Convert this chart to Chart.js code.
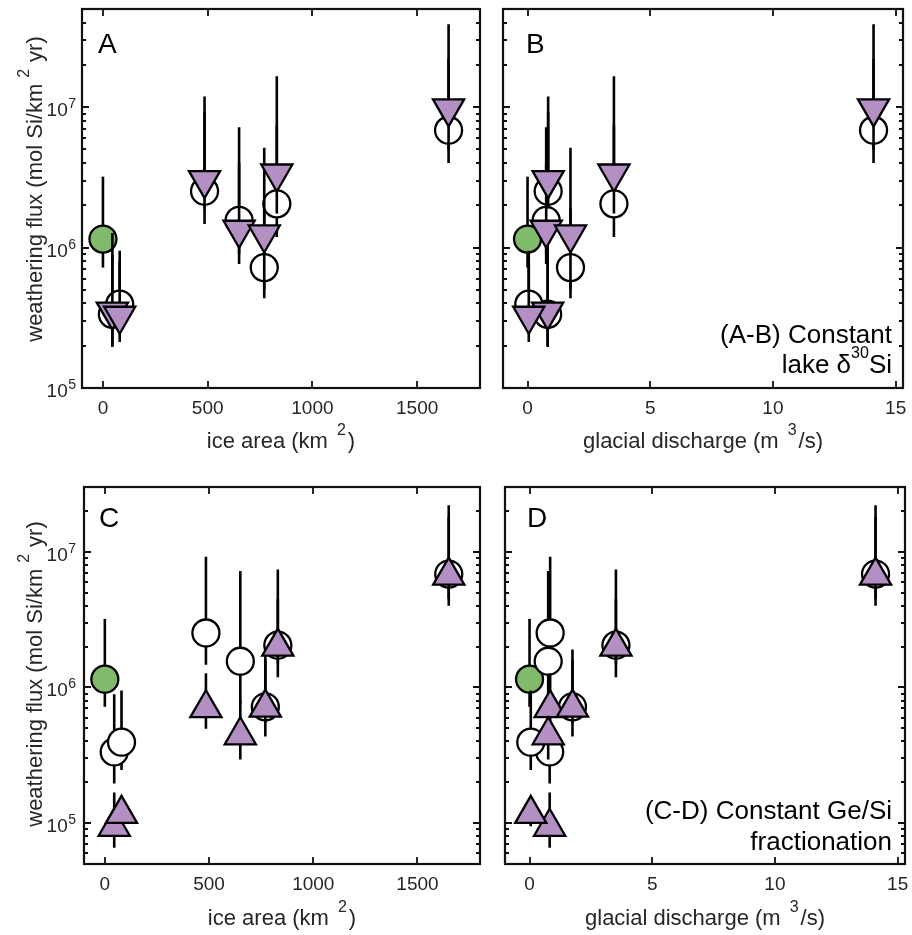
<!DOCTYPE html>
<html><head><meta charset="utf-8">
<script src="https://cdn.jsdelivr.net/npm/chart.js@4/dist/chart.umd.min.js"></script>
<style>
html,body{margin:0;padding:0;background:#fff;}
#wrap{position:relative;width:912px;height:935px;overflow:hidden;background:#fff;}
canvas{position:absolute;}
</style></head><body>
<div id="wrap">
<canvas id="cA" width="490" height="460" style="left:0px;top:0px;width:490px;height:460px"></canvas>
<canvas id="cB" width="422" height="460" style="left:490px;top:0px;width:422px;height:460px"></canvas>
<canvas id="cC" width="490" height="475" style="left:0px;top:460px;width:490px;height:475px"></canvas>
<canvas id="cD" width="422" height="475" style="left:490px;top:460px;width:422px;height:475px"></canvas>
</div>
<script>
// ---------------- data ----------------
const siteIceArea   = [45, 80, 485, 650, 770, 830, 1650];
const siteDischarge = [0.82, 0.05, 0.84, 0.76, 1.75, 3.52, 14.1];
const refIceArea    = [0];
const refDischarge  = [0];
const refFlux = [1.15e6];
const refLow  = [7.2e5];
const refHigh = [3.2e6];
// open circles
const openFlux = [3.35e5, 3.95e5, 2.52e6, 1.56e6, 7.2e5, 2.05e6, 6.85e6];
const openLow  = [1.96e5, 2.46e5, 1.47e6, 7.65e5, 4.35e5, 1.19e6, 4.0e6];
const openHigh = [8.9e5, 9.5e5, 9.2e6, 7.2e6, 1.9e6, 7.4e6, 2.2e7];
// (A-B) constant lake d30Si, downward triangles
const lakeFlux = [3.5e5, 3.27e5, 3.02e6, 1.34e6, 1.24e6, 3.37e6, 9.8e6];
const lakeLow  = [2.0e5, 2.13e5, 1.9e6, 9.0e5, 5.0e5, 1.75e6, 5.0e6];
const lakeHigh = [1.27e6, 8.0e5, 1.19e7, 4.0e6, 5.13e6, 1.66e7, 3.9e7];
// (C-D) constant Ge/Si fractionation, upward triangles
const geFlux = [9.4e4, 1.17e5, 7.03e5, 4.44e5, 7.1e5, 2.0e6, 6.67e6];
const geLow  = [6.6e4, 9.5e4, 4.97e5, 2.94e5, 5.5e5, 1.5e6, 4.5e6];
const geHigh = [1.68e5, 1.4e5, 1.27e6, 8.0e5, 1.6e6, 4.5e6, 1.8e7];

const xTicksIce = [0, 500, 1000, 1500];
const xTicksQ   = [0, 5, 10, 15];
const yTickExponents = [5, 6, 7];

// ---------------- styling ----------------
const FF = '"Liberation Sans", Arial, Helvetica, sans-serif';
const TXT = '#262626';
const PURPLE = '#B48FC4';
const GREEN = '#80BA6B';
Chart.defaults.font.family = FF;

function pts(xs, ys) { return xs.map((x, i) => ({x: x, y: ys[i]})); }
function bars(xs, lo, hi) {
  const d = [];
  xs.forEach((x, i) => { d.push({x: x, y: lo[i]}, {x: x, y: hi[i]}, {x: x, y: null}); });
  return d;
}
function barDs(data, order) {
  return {data: data, showLine: true, spanGaps: false, pointRadius: 0, borderColor: '#000',
          borderWidth: 2.6, order: order, fill: false};
}
function markDs(data, order, style, radius, fillc, rot) {
  return {data: data, showLine: false, pointStyle: style, pointRadius: radius, pointHoverRadius: radius,
          pointBackgroundColor: fillc, pointBorderColor: '#000', pointBorderWidth: 2.3,
          pointRotation: rot, order: order};
}

function richWidth(ctx, parts) {
  let w = 0;
  parts.forEach(p => { ctx.font = p.s + 'px ' + FF; w += (p.g || 0) + ctx.measureText(p.t).width; });
  return w;
}
function drawRich(ctx, parts, x, y, align) {
  const w = richWidth(ctx, parts);
  let cx = align === 'right' ? x - w : (align === 'center' ? x - w / 2 : x);
  ctx.textAlign = 'left'; ctx.textBaseline = 'alphabetic';
  parts.forEach(p => {
    ctx.font = p.s + 'px ' + FF;
    cx += (p.g || 0);
    ctx.fillText(p.t, cx, y - (p.r || 0));
    cx += ctx.measureText(p.t).width;
  });
}

const panelPlugin = {
  id: 'panel',
  afterDraw(chart, args, o) {
    const ctx = chart.ctx, a = chart.chartArea, xs = chart.scales.x, ys = chart.scales.y;
    ctx.save();
    ctx.strokeStyle = '#111'; ctx.lineWidth = 2.2;
    ctx.strokeRect(a.left, a.top, a.right - a.left, a.bottom - a.top);
    ctx.lineWidth = 1.8;
    ctx.beginPath();
    o.xTicks.forEach(v => {
      const px = Math.round(xs.getPixelForValue(v));
      ctx.moveTo(px, a.bottom); ctx.lineTo(px, a.bottom - 7);
      ctx.moveTo(px, a.top); ctx.lineTo(px, a.top + 7);
    });
    const mn = ys.min, mx = ys.max;
    for (let e = Math.floor(Math.log10(mn)); e <= Math.ceil(Math.log10(mx)); e++) {
      for (let k = 1; k <= 9; k++) {
        const v = k * Math.pow(10, e);
        if (v < mn * 0.999 || v > mx * 1.001) continue;
        const py = Math.round(ys.getPixelForValue(v));
        const len = k === 1 ? 7 : 4;
        ctx.moveTo(a.left, py); ctx.lineTo(a.left + len, py);
        ctx.moveTo(a.right, py); ctx.lineTo(a.right - len, py);
      }
    }
    ctx.stroke();
    ctx.fillStyle = TXT;
    const ox = o.ox, oy = o.oy;
    if (o.yLabels) {
      yTickExponents.forEach(e => {
        const py = ys.getPixelForValue(Math.pow(10, e));
        ctx.font = '14px ' + FF;
        const sw = ctx.measureText(String(e)).width;
        ctx.textAlign = 'left'; ctx.textBaseline = 'alphabetic';
        ctx.fillText(String(e), 76 - ox - sw, py + 1);
        ctx.font = '19px ' + FF;
        ctx.textAlign = 'right';
        ctx.fillText('10', 76 - ox - sw - 0.5, py + 9);
      });
      // y title
      ctx.save();
      ctx.translate(42 - ox, o.yTitleCy - oy);
      ctx.rotate(-Math.PI / 2);
      drawRich(ctx, [{t: 'weathering flux (mol Si/km', s: 22}, {t: '2', s: 16, r: 13, g: 6},
                     {t: 'yr)', s: 22, g: 7}], 0, 0, 'center');
      ctx.restore();
    }
    // x title
    drawRich(ctx, o.xTitle, (a.left + a.right) / 2, o.xTitleY - oy, 'center');
    // panel letter
    ctx.font = '28px ' + FF; ctx.textAlign = 'left'; ctx.textBaseline = 'alphabetic';
    ctx.fillStyle = '#000';
    ctx.fillText(o.letter, o.letterX - ox, o.letterY - oy);
    // note
    if (o.note) {
      ctx.fillStyle = '#000';
      o.note.forEach(line => drawRich(ctx, line.parts, line.x - ox, line.y - oy, 'right'));
    }
    ctx.restore();
  }
};

function makeChart(id, cfg) {
  const xVals = cfg.ice ? siteIceArea : siteDischarge;
  const rVals = cfg.ice ? refIceArea : refDischarge;
  const tri = cfg.lake ? {f: lakeFlux, l: lakeLow, h: lakeHigh, rot: 180}
                       : {f: geFlux, l: geLow, h: geHigh, rot: 0};
  const datasets = [
    barDs(bars(rVals, refLow, refHigh), 10),
    markDs(pts(rVals, refFlux), 9, 'circle', 13.5, GREEN, 0),
    barDs(bars(xVals, openLow, openHigh), 8),
    markDs(pts(xVals, openFlux), 7, 'circle', 13.5, '#ffffff', 0),
    barDs(bars(xVals, tri.l, tri.h), 6),
    markDs(pts(xVals, tri.f), 5, 'triangle', 18, PURPLE, tri.rot)
  ];
  const xTicks = cfg.ice ? xTicksIce : xTicksQ;
  return new Chart(document.getElementById(id), {
    type: 'scatter',
    data: {datasets: datasets},
    options: {
      responsive: false, animation: false, events: [],
      layout: {autoPadding: false, padding: {top: cfg.padTop, right: cfg.padRight, left: 0, bottom: 0}},
      plugins: {legend: {display: false}, tooltip: {enabled: false}, panel: cfg.panel},
      scales: {
        x: {type: 'linear', position: 'bottom', min: cfg.ice ? -100 : -1, max: cfg.ice ? 1800 : 15.3,
            grid: {display: false}, border: {display: false},
            afterBuildTicks: s => { s.ticks = xTicks.map(v => ({value: v})); },
            afterFit: s => { s.height = cfg.xH; },
            ticks: {color: TXT, font: {size: 19, family: FF}, padding: 1, maxRotation: 0,
                    autoSkip: false, callback: v => String(v)}},
        y: {type: 'logarithmic', position: 'left', min: cfg.yMin, max: cfg.yMax,
            grid: {display: false}, border: {display: false},
            ticks: {display: false},
            afterFit: s => { s.width = cfg.yW; }}
      }
    },
    plugins: [panelPlugin]
  });
}

const titleIce = [{t: 'ice area (km', s: 22}, {t: '2', s: 16, r: 13, g: 9}, {t: ')', s: 22, g: 2}];
const titleQ = [{t: 'glacial discharge (m', s: 22}, {t: '3', s: 16, r: 13, g: 9}, {t: '/s)', s: 22, g: 2}];

makeChart('cA', {ice: true, lake: true, padTop: 9, padRight: 10, xH: 72, yW: 82, yMin: 1e5, yMax: 5e7,
  panel: {ox: 0, oy: 0, xTicks: xTicksIce, yLabels: true, yTitleCy: 189, xTitle: titleIce, xTitleY: 448,
          letter: 'A', letterX: 98, letterY: 53}});
makeChart('cB', {ice: false, lake: true, padTop: 9, padRight: 9, xH: 72, yW: 13, yMin: 1e5, yMax: 5e7,
  panel: {ox: 490, oy: 0, xTicks: xTicksQ, yLabels: false, xTitle: titleQ, xTitleY: 448,
          letter: 'B', letterX: 526, letterY: 53,
          note: [{x: 892, y: 343, parts: [{t: '(A-B) Constant', s: 26}]},
                 {x: 892, y: 373, parts: [{t: 'lake δ', s: 26}, {t: '30', s: 16, r: 15}, {t: 'Si', s: 26}]}]}});
makeChart('cC', {ice: true, lake: false, padTop: 27, padRight: 10, xH: 71, yW: 84, yMin: 5e4, yMax: 3e7,
  panel: {ox: 0, oy: 460, xTicks: xTicksIce, yLabels: true, yTitleCy: 674, xTitle: titleIce, xTitleY: 925,
          letter: 'C', letterX: 99, letterY: 527}});
makeChart('cD', {ice: false, lake: false, padTop: 27, padRight: 7, xH: 71, yW: 15, yMin: 5e4, yMax: 3e7,
  panel: {ox: 490, oy: 460, xTicks: xTicksQ, yLabels: false, xTitle: titleQ, xTitleY: 925,
          letter: 'D', letterX: 527, letterY: 527,
          note: [{x: 892, y: 819, parts: [{t: '(C-D) Constant Ge/Si', s: 26}]},
                 {x: 892, y: 850, parts: [{t: 'fractionation', s: 26}]}]}});
</script>
</body></html>
